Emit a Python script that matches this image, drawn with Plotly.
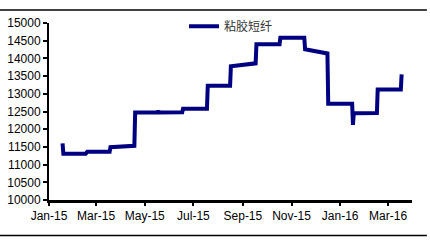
import plotly.graph_objects as go

dates = [
    "2015-01-18", "2015-01-19", "2015-02-16", "2015-02-18", "2015-03-18", "2015-03-19",
    "2015-04-18", "2015-04-19", "2015-05-17", "2015-05-18", "2015-05-19", "2015-06-17",
    "2015-06-18", "2015-07-18", "2015-07-19", "2015-08-16", "2015-08-17", "2015-09-17",
    "2015-09-18", "2015-10-17", "2015-10-18", "2015-11-17", "2015-11-18", "2015-12-16",
    "2015-12-17", "2016-01-16", "2016-01-17", "2016-01-18", "2016-02-16", "2016-02-17",
    "2016-03-17", "2016-03-18",
]
values = [
    11600, 11310, 11310, 11360, 11360, 11490,
    11530, 12470, 12470, 12520, 12470, 12480,
    12575, 12580, 13230, 13230, 13780, 13860,
    14400, 14400, 14580, 14580, 14260, 14140,
    12720, 12720, 12120, 12450, 12460, 13120,
    13120, 13550,
]
series_name = "粘胶短纤"
y_ticks = [10000, 10500, 11000, 11500, 12000, 12500, 13000, 13500, 14000, 14500, 15000]
y_tick_labels = [str(v) for v in y_ticks]
x_ticks = ["2015-01-01", "2015-03-01", "2015-05-01", "2015-07-01", "2015-09-01",
           "2015-11-01", "2016-01-01", "2016-03-01"]
x_tick_labels = ["Jan-15", "Mar-15", "May-15", "Jul-15", "Sep-15", "Nov-15", "Jan-16", "Mar-16"]

fig = go.Figure()
fig.add_trace(go.Scatter(
    x=dates, y=values, mode="lines", name=series_name,
    line=dict(color="#000080", width=4),
))

font_main = "Liberation Sans, Arial, sans-serif"
fig.update_layout(
    width=430, height=240,
    margin=dict(l=49, r=18, t=16, b=40),
    paper_bgcolor="white", plot_bgcolor="white",
    font=dict(family=font_main, size=12, color="black"),
    showlegend=True,
    legend=dict(
        x=0.372, y=0.981, xanchor="left", yanchor="middle",
        bgcolor="rgba(0,0,0,0)", borderwidth=0,
        font=dict(family="Noto Sans CJK SC, sans-serif", size=12, color="#333333"),
    ),
    xaxis=dict(
        type="date", range=["2015-01-01", "2016-03-31"],
        tickvals=x_ticks, ticktext=x_tick_labels, automargin=False,
        showgrid=False, zeroline=False,
        showline=True, linecolor="black", linewidth=3,
        ticks="outside", ticklen=3, tickwidth=2, tickcolor="black",
        tickfont=dict(family=font_main, size=12, color="black"),
    ),
    yaxis=dict(
        range=[10000, 15000], tickvals=y_ticks, ticktext=y_tick_labels, automargin=False,
        showgrid=False, zeroline=False,
        showline=True, linecolor="black", linewidth=2,
        ticks="outside", ticklen=4, tickwidth=2, tickcolor="black",
        tickfont=dict(family=font_main, size=12, color="black"),
    ),
    shapes=[
        dict(type="line", xref="paper", yref="paper", x0=-0.135, x1=1.041,
             y0=1.073, y1=1.073, line=dict(color="black", width=1.5)),
        dict(type="line", xref="paper", yref="paper", x0=-0.135, x1=1.041,
             y0=-0.201, y1=-0.201, line=dict(color="black", width=1.5)),
    ],
)

fig.write_html("out.html")
